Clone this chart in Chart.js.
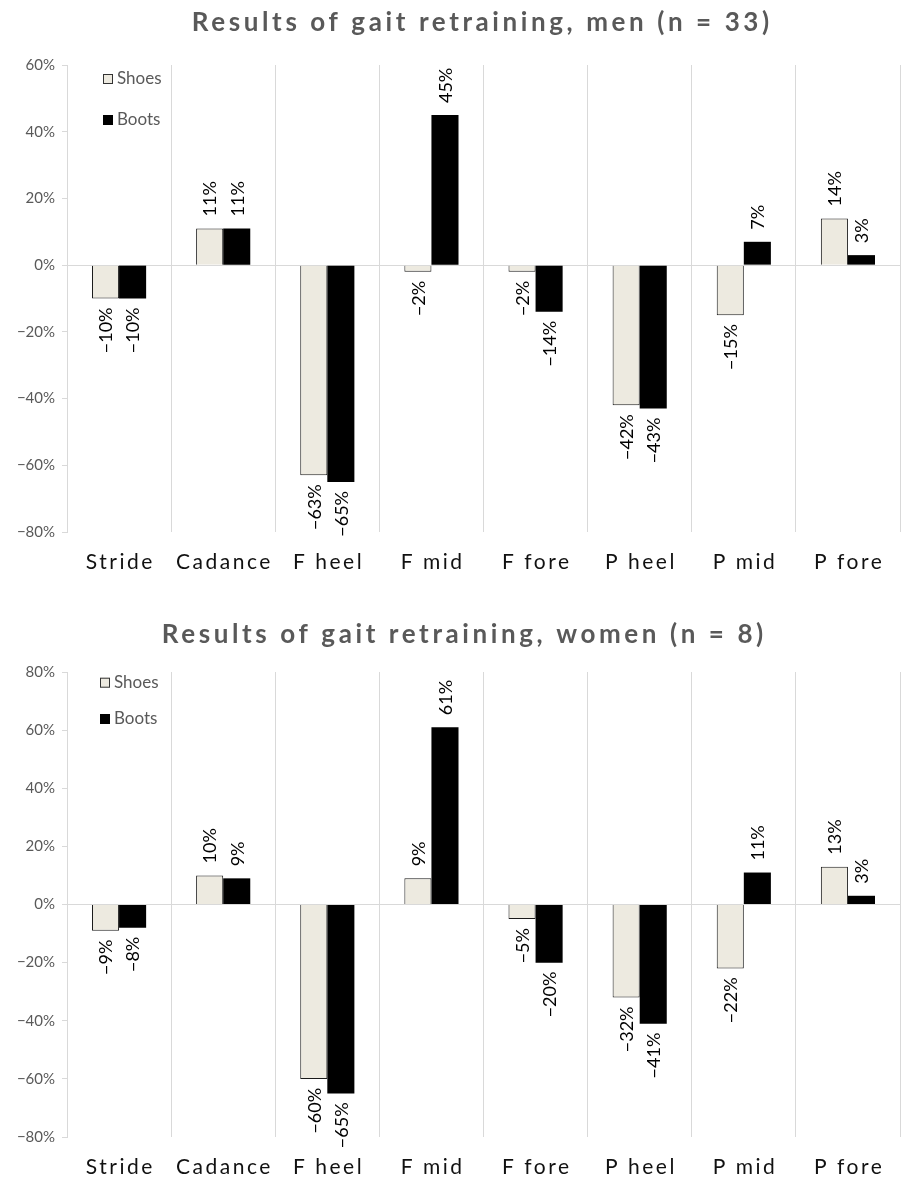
<!DOCTYPE html>
<html>
<head>
<meta charset="utf-8">
<script src="https://cdn.jsdelivr.net/npm/chart.js@4/dist/chart.umd.min.js"></script>
<style>
  html, body { margin: 0; padding: 0; background: #ffffff; }
  .panel { position: absolute; left: 0; width: 901px; }
  canvas { display: block; }
</style>
</head>
<body>
<div class="panel" style="top:0;height:600px;"><canvas id="men" width="901" height="600"></canvas></div>
<div class="panel" style="top:600px;height:579px;"><canvas id="women" width="901" height="579"></canvas></div>
<script>
// Gait retraining outcomes: percentage change per measure
const categories = ['Stride', 'Cadance', 'F heel', 'F mid', 'F fore', 'P heel', 'P mid', 'P fore'];
const seriesNames = ['Shoes', 'Boots'];

const menShoes   = [-10, 11, -63, -2, -2, -42, -15, 14];
const menBoots   = [-10, 11, -65, 45, -14, -43, 7, 3];
const womenShoes = [-9, 10, -60, 9, -5, -32, -22, 13];
const womenBoots = [-8, 9, -65, 61, -20, -41, 11, 3];

const menTitle = 'Results of gait retraining, men (n = 33)';
const womenTitle = 'Results of gait retraining, women (n = 8)';

const SHOES_FILL = '#EDEAE0';
const BOOTS_FILL = '#000000';
const GRID = '#D9D9D9';
const GREY_TEXT = '#595959';
const FONT = "Lato, 'Open Sans', sans-serif";

function pct(v) {
  return (v < 0 ? '\u2212' + Math.abs(v) : String(v)) + '%';
}

function spacedText(ctx, text, x, y, spacing) {
  ctx.letterSpacing = spacing + 'px';
  const w = ctx.measureText(text).width - spacing;
  ctx.textAlign = 'left';
  ctx.fillText(text, x - w / 2, y);
  ctx.letterSpacing = '0px';
}

// Title, category labels, in-plot legend and bar value labels
const decorations = {
  id: 'decorations',
  afterDraw(chart, args, opts) {
    const ctx = chart.ctx;
    const area = chart.chartArea;
    ctx.save();

    // title
    ctx.fillStyle = GREY_TEXT;
    ctx.font = 'bold 26px ' + FONT;
    ctx.textBaseline = 'alphabetic';
    spacedText(ctx, opts.title, opts.titleX, opts.titleY, 3.6);

    // category labels
    const xs = chart.scales.x;
    ctx.fillStyle = '#111111';
    ctx.font = '21px ' + FONT;
    ctx.textBaseline = 'middle';
    chart.data.labels.forEach((lab, i) => {
      spacedText(ctx, lab, xs.getPixelForTick(i), area.bottom + 30, 2.5);
    });

    // legend
    ctx.font = '17px ' + FONT;
    ctx.textBaseline = 'middle';
    chart.data.datasets.forEach((ds, i) => {
      const cy = opts.legendY[i];
      const bx = opts.legendX;
      ctx.fillStyle = ds.backgroundColor;
      ctx.fillRect(bx, cy - 5, 10, 10);
      if (ds.borderWidth) {
        ctx.strokeStyle = '#333333';
        ctx.lineWidth = 1;
        ctx.strokeRect(bx + 0.5, cy - 4.5, 9, 9);
      }
      ctx.fillStyle = GREY_TEXT;
      ctx.textAlign = 'left';
      ctx.fillText(ds.label, bx + 14, cy);
    });

    // value labels, rotated, outside the bar end
    ctx.fillStyle = '#000000';
    ctx.font = '18px ' + FONT;
    ctx.textBaseline = 'middle';
    chart.data.datasets.forEach((ds, di) => {
      const meta = chart.getDatasetMeta(di);
      meta.data.forEach((bar, i) => {
        const v = ds.data[i];
        ctx.save();
        if (v >= 0) {
          ctx.translate(bar.x + 1, bar.y - 12);
          ctx.rotate(-Math.PI / 2);
          ctx.textAlign = 'left';
        } else {
          ctx.translate(bar.x + 1, bar.y + 9);
          ctx.rotate(-Math.PI / 2);
          ctx.textAlign = 'right';
        }
        ctx.fillText(pct(v), 0, 0);
        ctx.restore();
      });
    });

    ctx.restore();
  }
};

function makeChart(id, shoes, boots, yMin, yMax, padTop, xHeight, deco) {
  return new Chart(document.getElementById(id), {
    type: 'bar',
    data: {
      labels: categories,
      datasets: [
        { label: seriesNames[0], data: shoes, backgroundColor: SHOES_FILL,
          borderColor: '#1a1a1a', borderWidth: 1 },
        { label: seriesNames[1], data: boots, backgroundColor: BOOTS_FILL,
          borderColor: BOOTS_FILL, borderWidth: 0 }
      ]
    },
    options: {
      responsive: false,
      devicePixelRatio: 1,
      animation: false,
      events: [],
      layout: { padding: { top: padTop, right: 1, left: 0, bottom: 0 } },
      datasets: { bar: { categoryPercentage: 0.52, barPercentage: 1.0 } },
      plugins: {
        legend: { display: false },
        title: { display: false },
        tooltip: { enabled: false },
        decorations: deco
      },
      scales: {
        x: {
          offset: true,
          grid: { offset: true, color: GRID, lineWidth: 1, drawTicks: false },
          border: { display: false },
          ticks: { display: false },
          afterFit(scale) { scale.height = xHeight; }
        },
        y: {
          min: yMin, max: yMax,
          ticks: {
            stepSize: 20,
            color: GREY_TEXT,
            font: { family: FONT, size: 15 },
            padding: 7,
            callback: (v) => pct(v)
          },
          grid: {
            color: (c) => (c.tick && c.tick.value === 0 ? GRID : 'rgba(0,0,0,0)'),
            tickColor: GRID,
            tickLength: 5,
            lineWidth: 1
          },
          border: { display: true, color: GRID, width: 1 },
          afterFit(scale) { scale.width = 67; }
        }
      }
    },
    plugins: [decorations]
  });
}

makeChart('men', menShoes, menBoots, -80, 60, 65, 68,
  { title: menTitle, titleX: 480.5, titleY: 31, legendX: 103, legendY: [79, 120] });

makeChart('women', womenShoes, womenBoots, -80, 80, 72, 42,
  { title: womenTitle, titleX: 462.5, titleY: 43, legendX: 100, legendY: [82.7, 119] });
</script>
</body>
</html>
